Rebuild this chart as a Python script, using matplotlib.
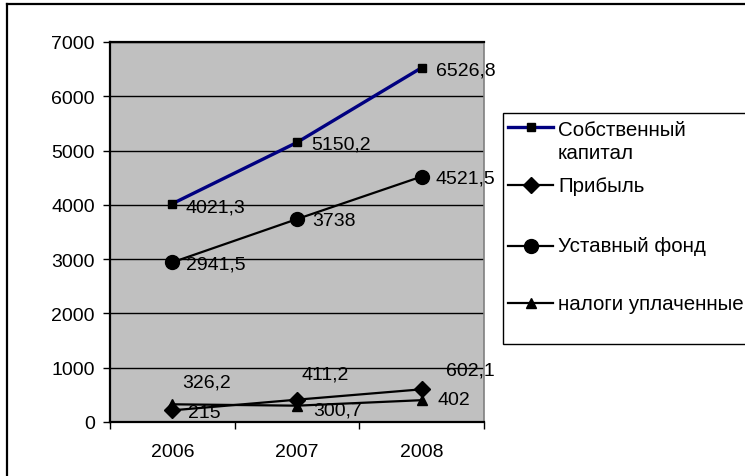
import matplotlib
matplotlib.use("Agg")
import matplotlib.pyplot as plt
from matplotlib.lines import Line2D
from matplotlib.patches import Rectangle

plt.rcParams['font.family'] = ['Liberation Sans', 'DejaVu Sans']

years = ['2006', '2007', '2008']
equity = [4021.3, 5150.2, 6526.8]
profit = [215, 411.2, 602.1]
charter = [2941.5, 3738, 4521.5]
taxes = [326.2, 300.7, 402]

names = ['Собственный\nкапитал', 'Прибыль', 'Уставный фонд', 'налоги уплаченные']
label_texts = {
    'equity': ['4021,3', '5150,2', '6526,8'],
    'profit': ['215', '411,2', '602,1'],
    'charter': ['2941,5', '3738', '4521,5'],
    'taxes': ['326,2', '300,7', '402'],
}

W, H = 745, 477
FS = 14
FS_LEG = 14.8
fig = plt.figure(figsize=(W / 100, H / 100), dpi=100)
ax = fig.add_axes([110 / W, (H - 423) / H, 374 / W, 380 / H])
ax.set_facecolor('#C0C0C0')

x = list(range(len(years)))
series = [
    ('equity', equity, dict(color='#000080', lw=2.4, marker='s', ms=6, mfc='black', mec='black')),
    ('profit', profit, dict(color='black', lw=1.6, marker='D', ms=8, mfc='black', mec='black')),
    ('charter', charter, dict(color='black', lw=1.6, marker='o', ms=10, mfc='black', mec='black')),
    ('taxes', taxes, dict(color='black', lw=1.6, marker='^', ms=7, mfc='black', mec='black')),
]
for key, vals, st in series:
    ax.plot(x, vals, zorder=3, clip_on=False, **st)

# label offsets in pixels (dx, dy up)
offsets = {
    'equity': [(13, -3), (14, -2), (14, -2)],
    'charter': [(14, -2), (15, -1), (14, -1)],
    'profit': [(16, -2), (5, 26), (24, 19)],
    'taxes': [(10, 22), (16, -4), (16, 1)],
}
for key, vals, st in series:
    for i, v in enumerate(vals):
        dx, dy = offsets[key][i]
        ax.annotate(label_texts[key][i], (i, v), xytext=(dx * 0.72, dy * 0.72),
                    textcoords='offset points', ha='left', va='center',
                    fontsize=FS, zorder=5, annotation_clip=False)

ax.set_xlim(-0.5, 2.5)
ax.set_ylim(0, 7000)
ax.set_yticks(range(0, 7001, 1000))
ax.yaxis.grid(True, color='black', lw=1.0)
ax.set_axisbelow(True)
ax.set_xticks([-0.5, 0.5, 1.5, 2.5])
ax.set_xticklabels([])
ax.set_xticks(x, minor=True)
ax.set_xticklabels(years, minor=True)
ax.tick_params(axis='x', which='major', length=5, width=1, direction='out')
ax.tick_params(axis='x', which='minor', length=0, pad=15, labelsize=FS)
ax.tick_params(axis='y', length=5, width=1, direction='out', pad=6, labelsize=FS)
for s in ['left', 'bottom', 'top']:
    ax.spines[s].set_color('black')
    ax.spines[s].set_linewidth(1.6)
ax.spines['right'].set_color('#808080')
ax.spines['right'].set_linewidth(1.2)

# outer chart border (top and left visible)
fig.add_artist(Line2D([7 / W, 1.0], [1 - 5 / H, 1 - 5 / H], color='black', lw=1.6))
fig.add_artist(Line2D([7 / W, 7 / W], [0, 1 - 5 / H], color='black', lw=1.6))

# legend drawn manually
fig.add_artist(Rectangle((503 / W, 1 - 345 / H), (W - 503 + 20) / W, (345 - 114) / H,
                         transform=fig.transFigure, fill=True, facecolor='white',
                         edgecolor='black', lw=1.0))
legend_y = [128, 186, 247, 304]
text_y = [142, 187, 247, 305]
for (key, vals, st), ly, ty, nm in zip(series, legend_y, text_y, names):
    fig.add_artist(Line2D([508 / W, 530.5 / W, 553 / W], [1 - ly / H] * 3,
                          markevery=[1], **st))
    fig.text(558 / W, 1 - ty / H, nm, ha='left', va='center', fontsize=FS_LEG,
             linespacing=1.25)

fig.savefig('out.png', dpi=100)
